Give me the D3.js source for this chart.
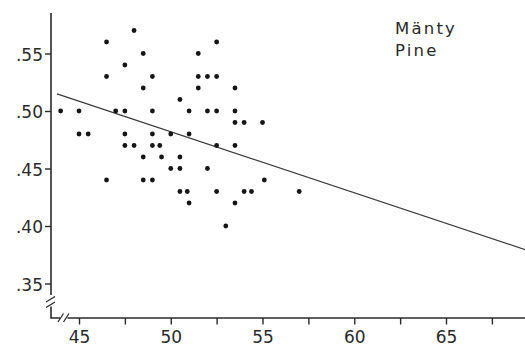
<!DOCTYPE html>
<html>
<head>
<meta charset="utf-8">
<script src="https://cdn.jsdelivr.net/npm/d3@7/dist/d3.min.js"></script>
<style>
  html, body { margin: 0; padding: 0; background: #fff; }
  svg { display: block; }
  text { font-family: "DejaVu Sans", sans-serif; fill: #2a2a2a; }
</style>
</head>
<body>
<svg id="chart" width="525" height="347"></svg>
<script>
// Basic density vs. latitude-type measurements for pine (Mänty)
const xValues = [
  48.0,
  46.5, 52.5,
  48.5, 51.5,
  47.5,
  46.5, 49.0, 51.5, 52.0, 52.5,
  48.5, 51.5, 53.5,
  50.5,
  44.0, 45.0, 47.0, 47.5, 49.0, 51.0, 52.0, 52.5, 53.5,
  53.5, 54.0, 55.0,
  45.0, 45.5, 47.5, 49.0, 50.0, 51.0,
  47.5, 48.0, 49.0, 49.4, 52.5, 53.5,
  48.5, 49.5, 50.5,
  50.0, 50.5, 52.0,
  46.5, 48.5, 49.0, 55.1,
  50.5, 50.9, 52.5, 54.0, 54.4, 57.0,
  51.0, 53.5,
  53.0
];
const yValues = [
  0.57,
  0.56, 0.56,
  0.55, 0.55,
  0.54,
  0.53, 0.53, 0.53, 0.53, 0.53,
  0.52, 0.52, 0.52,
  0.51,
  0.50, 0.50, 0.50, 0.50, 0.50, 0.50, 0.50, 0.50, 0.50,
  0.49, 0.49, 0.49,
  0.48, 0.48, 0.48, 0.48, 0.48, 0.48,
  0.47, 0.47, 0.47, 0.47, 0.47, 0.47,
  0.46, 0.46, 0.46,
  0.45, 0.45, 0.45,
  0.44, 0.44, 0.44, 0.44,
  0.43, 0.43, 0.43, 0.43, 0.43, 0.43,
  0.42, 0.42,
  0.40
];
const xTickValues = [45, 47.5, 50, 52.5, 55, 57.5, 60, 62.5, 65, 67.5];
const xTickLabels = ["45", "", "50", "", "55", "", "60", "", "65", ""];
const yTickValues = [0.35, 0.40, 0.45, 0.50, 0.55];
const yTickLabels = [".35", ".40", ".45", ".50", ".55"];
// fitted line y = a + b*x, drawn over this x span
const fitIntercept = 0.7475;
const fitSlope = -0.00531;
const fitRange = [43.8, 69.4];
const legendLines = ["Mänty", "Pine"];

const svg = d3.select("#chart");
const ink = "#2a2a2a";

const x = d3.scaleLinear().domain([45, 65]).range([79, 446]);
const y = d3.scaleLinear().domain([0.35, 0.55]).range([283.5, 53.5]);

const axisX0 = 51;     // y axis position
const axisY0 = 318;    // x axis position

// axis lines with scale breaks
const axisG = svg.append("g")
  .attr("fill", "none").attr("stroke", ink).attr("stroke-width", 1.6);
axisG.append("path").attr("d", `M${axisX0},13 V295`);
axisG.append("path").attr("d", `M${axisX0},306.5 V${axisY0} H60`);
axisG.append("path").attr("d", `M67.5,${axisY0} H525`);
// break marks on y axis
axisG.append("path").attr("d", `M46,302 L55,296.5 M46,307.5 L55,302`).attr("stroke-width", 1.3);
// break marks on x axis
axisG.append("path").attr("d", `M58,322 L63.5,313.5 M63.5,322 L69,313.5`).attr("stroke-width", 1.3);

// x axis ticks and labels
const xAxis = d3.axisBottom(x)
  .tickValues(xTickValues)
  .tickSize(6.5)
  .tickPadding(6)
  .tickFormat((d, i) => xTickLabels[i]);
const gx = svg.append("g").attr("transform", `translate(0,${axisY0})`).call(xAxis);
gx.select(".domain").remove();
gx.selectAll(".tick line").attr("stroke", ink).attr("stroke-width", 1.4);
gx.selectAll(".tick text")
  .attr("font-size", 17).attr("fill", ink)
  .attr("font-family", "DejaVu Sans, sans-serif");

// y axis ticks and labels
const yAxis = d3.axisLeft(y)
  .tickValues(yTickValues)
  .tickSize(6)
  .tickPadding(2)
  .tickFormat((d, i) => yTickLabels[i]);
const gy = svg.append("g").attr("transform", `translate(${axisX0},0)`).call(yAxis);
gy.select(".domain").remove();
gy.selectAll(".tick line").attr("stroke", ink).attr("stroke-width", 1.4);
gy.selectAll(".tick text")
  .attr("font-size", 17).attr("fill", ink).attr("dy", "0.4em")
  .attr("font-family", "DejaVu Sans, sans-serif");

// regression line
const fitLine = d3.line().x(d => x(d)).y(d => y(fitIntercept + fitSlope * d));
svg.append("path")
  .datum(fitRange)
  .attr("d", fitLine)
  .attr("fill", "none")
  .attr("stroke", "#3a3a3a")
  .attr("stroke-width", 1.3);

// observations
const points = xValues.map((v, i) => ({ x: v, y: yValues[i] }));
svg.append("g").selectAll("circle")
  .data(points)
  .join("circle")
  .attr("cx", d => x(d.x))
  .attr("cy", d => y(d.y))
  .attr("r", 2.4)
  .attr("fill", "#151515");

// species label
svg.append("g").selectAll("text")
  .data(legendLines)
  .join("text")
  .attr("x", 395)
  .attr("y", (d, i) => 34 + i * 21.5)
  .attr("font-size", 16.5)
  .attr("letter-spacing", 2.2)
  .attr("fill", ink)
  .text(d => d);
</script>
</body>
</html>
